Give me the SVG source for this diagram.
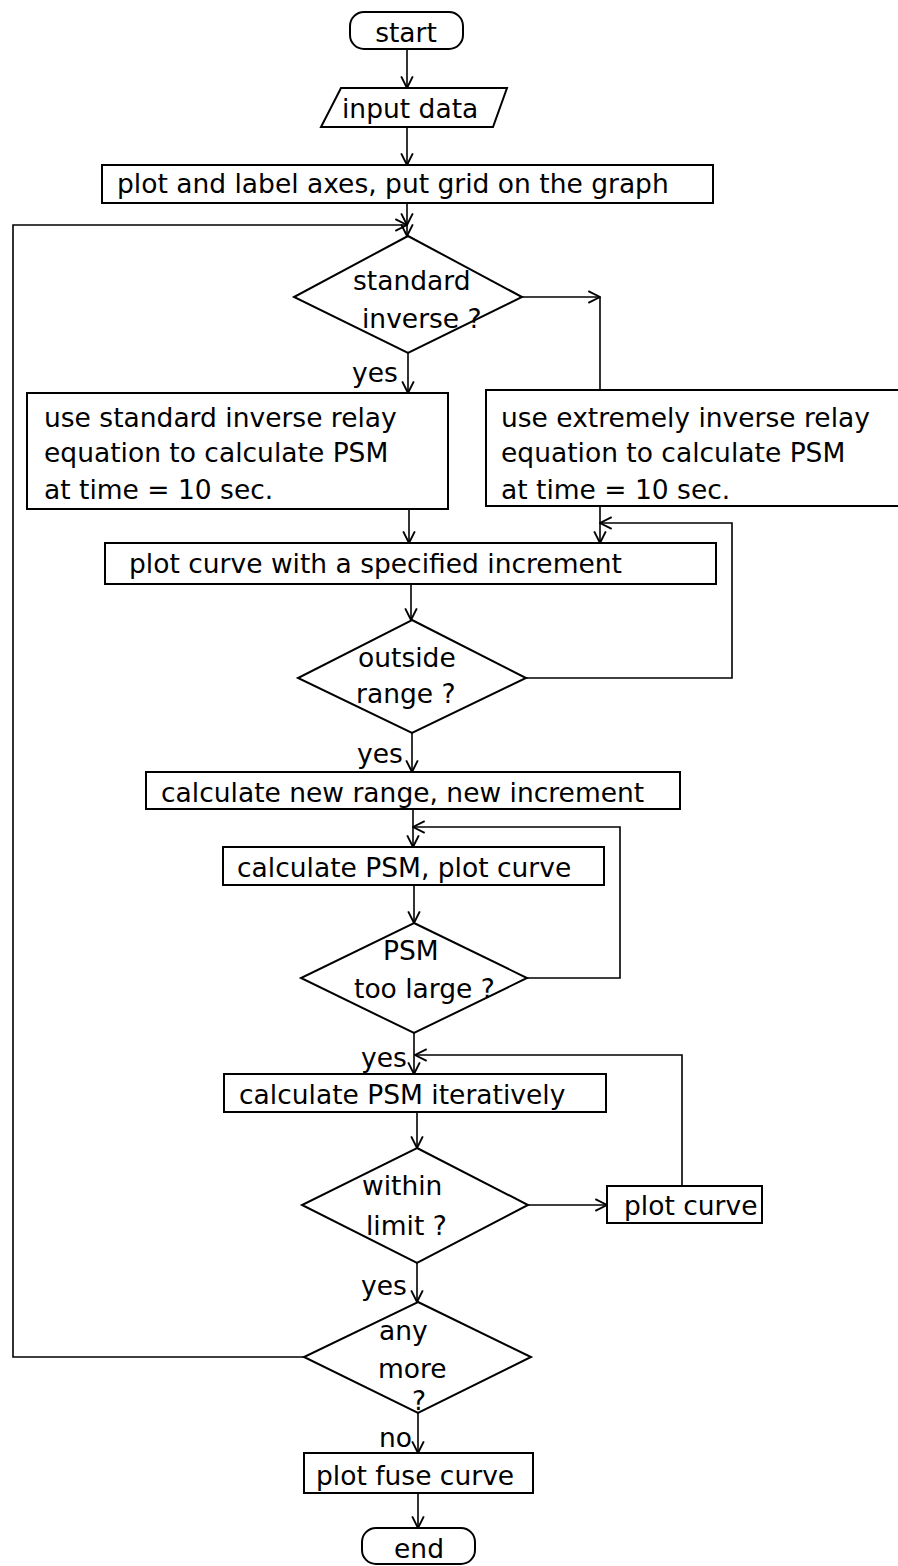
<svg xmlns="http://www.w3.org/2000/svg" width="898" height="1566" viewBox="0 0 898 1566">
<style>
.n{fill:#fff;stroke:#000;stroke-width:2}
.t{font-family:"DejaVu Sans","Liberation Sans",sans-serif;font-size:26.5px;fill:#000}
.c{fill:none;stroke:#000;stroke-width:1.6}
.a{marker-end:url(#ah)}
.m{text-anchor:middle}
</style>
<defs>
<marker id="ah" viewBox="0 0 12 12" refX="11" refY="6" markerWidth="14" markerHeight="14" markerUnits="userSpaceOnUse" orient="auto">
<path d="M1,1 L11,6 L1,11" fill="none" stroke="#000" stroke-width="1.6"/>
</marker>
</defs>
<rect width="898" height="1566" fill="#fff"/>
<g id="connectors">
<path class="c a" d="M407,49 V88"/>
<path class="c a" d="M407,127 V165"/>
<path class="c a" d="M407,203 V225"/>
<path class="c a" d="M407,225 V236"/>
<path class="c a" d="M304,1357 H13 V225 H407"/>
<path class="c a" d="M522,297 H600"/>
<path class="c" d="M600,297 V390"/>
<path class="c a" d="M408,353 V393"/>
<path class="c a" d="M409,509 V543"/>
<path class="c a" d="M600,506 V543"/>
<path class="c a" d="M526,678 H732 V523 H600"/>
<path class="c a" d="M411,584 V620"/>
<path class="c a" d="M412,733 V772"/>
<path class="c a" d="M413,809 V847"/>
<path class="c a" d="M527,978 H620 V827 H413"/>
<path class="c a" d="M414,885 V923"/>
<path class="c a" d="M414,1033 V1074"/>
<path class="c a" d="M682,1186 V1055 H415"/>
<path class="c a" d="M417,1112 V1148"/>
<path class="c a" d="M528,1205 H607"/>
<path class="c a" d="M417,1263 V1302"/>
<path class="c a" d="M418,1413 V1453"/>
<path class="c a" d="M418,1493 V1528"/>
</g>
<g id="start"><rect class="n" x="350" y="12" width="113" height="37" rx="14"/><text class="t m" x="406" y="42">start</text></g>
<g id="input"><polygon class="n" points="341,88 507,88 493,127 321,127"/><text class="t" x="342" y="118">input data</text></g>
<g id="axes"><rect class="n" x="102" y="165" width="611" height="38"/><text class="t" x="117" y="193">plot and label axes, put grid on the graph</text></g>
<g id="d1"><polygon class="n" points="408,236 522,297 408,353 294,297"/><text class="t" x="353" y="290">standard</text><text class="t" x="362" y="328">inverse ?</text></g>
<g id="box1"><rect class="n" x="27" y="393" width="421" height="116"/><text class="t" x="44" y="427">use standard inverse relay</text><text class="t" x="44" y="462">equation to calculate PSM</text><text class="t" x="44" y="499">at time = 10 sec.</text></g>
<g id="box2"><rect class="n" x="486" y="390" width="420" height="116"/><text class="t" x="501" y="427">use extremely inverse relay</text><text class="t" x="501" y="462">equation to calculate PSM</text><text class="t" x="501" y="499">at time = 10 sec.</text></g>
<g id="box3"><rect class="n" x="105" y="543" width="611" height="41"/><text class="t" x="129" y="573">plot curve with a specified increment</text></g>
<g id="d2"><polygon class="n" points="412,620 526,678 412,733 298,678"/><text class="t" x="358" y="667">outside</text><text class="t" x="356" y="703">range ?</text></g>
<g id="box4"><rect class="n" x="146" y="772" width="534" height="37"/><text class="t" x="161" y="802">calculate new range, new increment</text></g>
<g id="box5"><rect class="n" x="223" y="847" width="381" height="38"/><text class="t" x="237" y="877">calculate PSM, plot curve</text></g>
<g id="d3"><polygon class="n" points="414,923 527,978 414,1033 301,978"/><text class="t" x="383" y="960">PSM</text><text class="t" x="354" y="998">too large ?</text></g>
<g id="box6"><rect class="n" x="224" y="1074" width="382" height="38"/><text class="t" x="239" y="1104">calculate PSM iteratively</text></g>
<g id="d4"><polygon class="n" points="417,1148 528,1205 417,1263 302,1205"/><text class="t" x="362" y="1195">within</text><text class="t" x="366" y="1235">limit ?</text></g>
<g id="plotcurve"><rect class="n" x="607" y="1186" width="155" height="37"/><text class="t" x="624" y="1215">plot curve</text></g>
<g id="d5"><polygon class="n" points="418,1302 531,1357 418,1413 304,1357"/><text class="t" x="379" y="1340">any</text><text class="t" x="378" y="1378">more</text><text class="t" x="412" y="1410">?</text></g>
<g id="box7"><rect class="n" x="304" y="1453" width="229" height="40"/><text class="t" x="316" y="1485">plot fuse curve</text></g>
<g id="end"><rect class="n" x="362" y="1528" width="113" height="36" rx="14"/><text class="t m" x="419" y="1558">end</text></g>
<g id="labels">
<text class="t" x="352" y="382">yes</text>
<text class="t" x="357" y="763">yes</text>
<text class="t" x="361" y="1067">yes</text>
<text class="t" x="361" y="1295">yes</text>
<text class="t" x="379" y="1447">no</text>
</g>
</svg>
